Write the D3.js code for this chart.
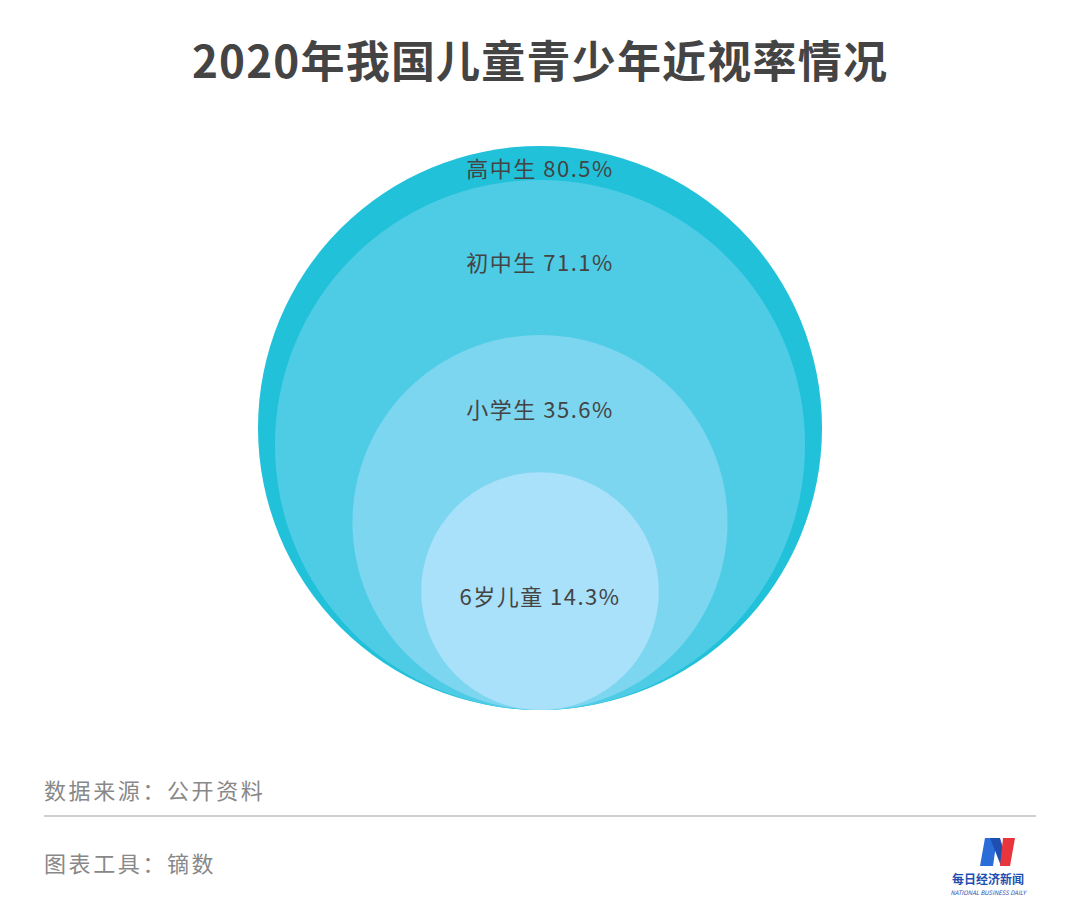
<!DOCTYPE html>
<html><head><meta charset="utf-8">
<script src="https://cdn.jsdelivr.net/npm/d3@7"></script>
<style>body{margin:0;background:#fff}</style></head>
<body><svg id="c" width="1080" height="918"></svg>
<script>
const categories=["高中生","初中生","小学生","6岁儿童"];
const values=[80.5,71.1,35.6,14.3];
const colors=["#22C1DA","#4ECCE6","#7DD6F0","#A9E0FA"];
const svg=d3.select("#c");
const font="'Noto Sans CJK SC','Noto Sans',sans-serif";
svg.append("text").attr("x",540).attr("y",78).attr("text-anchor","middle")
 .attr("font-family",font).attr("font-weight","bold").attr("font-size",44).attr("letter-spacing",1.2).attr("fill","#444")
 .text("2020年我国儿童青少年近视率情况");
const r=d3.scaleSqrt().domain([0,80.5]).range([0,282]);
const cx=540,bottom=710;
const g=svg.append("g");
g.selectAll("circle").data(values).join("circle")
 .attr("cx",cx).attr("cy",d=>bottom-r(d)).attr("r",d=>r(d)).attr("fill",(d,i)=>colors[i]);
const tops=values.map(v=>bottom-2*r(v));
g.selectAll("text.l").data(values).join("text").attr("class","l")
 .attr("x",cx).attr("text-anchor","middle")
 .attr("y",(d,i)=>(tops[i]+(i<values.length-1?tops[i+1]:bottom))/2+14)
 .attr("font-family",font).attr("font-size",22).attr("letter-spacing",1.5).attr("fill","#444")
 .text((d,i)=>categories[i]+"  "+d+"%");
svg.append("text").attr("x",44).attr("y",799).attr("font-family",font).attr("font-size",22).attr("letter-spacing",2.6).attr("fill","#888").text("数据来源：公开资料");
svg.append("line").attr("x1",44).attr("x2",1036).attr("y1",816).attr("y2",816).attr("stroke","#d0d0d0").attr("stroke-width",2);
svg.append("text").attr("x",44).attr("y",872).attr("font-family",font).attr("font-size",22).attr("letter-spacing",2.6).attr("fill","#888").text("图表工具：镝数");
// logo
svg.append("path").attr("d","M985,838 L997,838 L993,866 L980,866 Z").attr("fill","#2a6dd9");
svg.append("path").attr("d","M990,838 L1000,838 L1006,858 L1001,866 Z").attr("fill","#1e4fb0");
svg.append("path").attr("d","M1003,838 L1015,838 L1010,866 L1000,866 Z").attr("fill","#e8343c");
svg.append("text").attr("x",988).attr("y",884).attr("text-anchor","middle").attr("font-family",font).attr("font-weight","bold").attr("font-size",12).attr("fill","#1e4fb0").text("每日经济新闻");
svg.append("text").attr("x",988).attr("y",895).attr("text-anchor","middle").attr("font-family",font).attr("font-size",6).attr("font-style","italic").attr("fill","#1e4fb0").text("NATIONAL BUSINESS DAILY");
</script></body></html>
